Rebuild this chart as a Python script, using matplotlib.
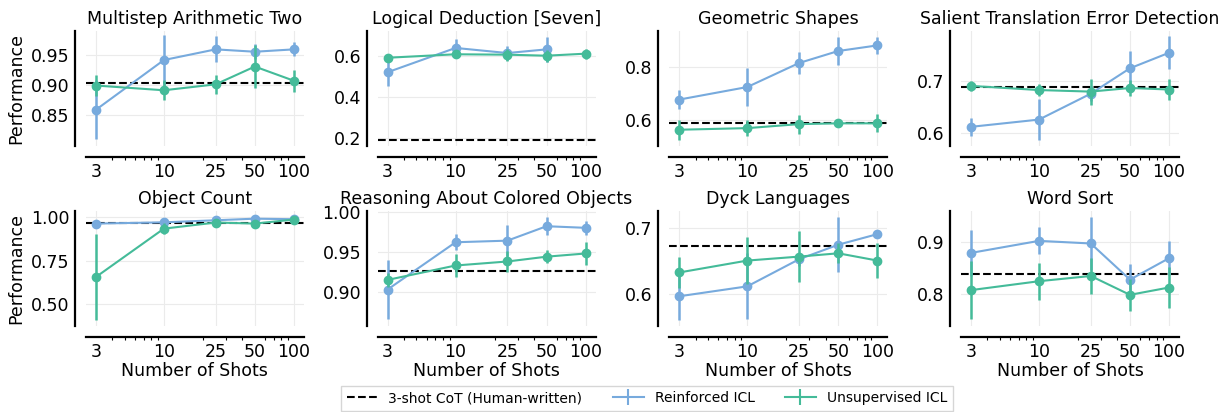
import numpy as np
import matplotlib
matplotlib.use("Agg")
import matplotlib.pyplot as plt
from matplotlib.lines import Line2D
from matplotlib.ticker import FixedLocator, NullFormatter, LogLocator

shots = [3, 10, 25, 50, 100]

titles = [
    "Multistep Arithmetic Two", "Logical Deduction [Seven]",
    "Geometric Shapes", "Salient Translation Error Detection",
    "Object Count", "Reasoning About Colored Objects",
    "Dyck Languages", "Word Sort",
]

# 3-shot CoT (Human-written) baseline per task
baseline = [0.903, 0.192, 0.590, 0.689, 0.966, 0.926, 0.672, 0.839]

reinforced = [
    [0.858, 0.942, 0.960, 0.956, 0.960],
    [0.522, 0.641, 0.616, 0.634, np.nan],
    [0.678, 0.725, 0.815, 0.860, 0.881],
    [0.612, 0.626, 0.676, 0.725, 0.755],
    [0.962, 0.969, 0.981, 0.990, 0.987],
    [0.903, 0.962, 0.964, 0.982, 0.980],
    [0.596, 0.611, 0.652, 0.674, 0.690],
    [0.879, 0.902, 0.897, 0.828, 0.869],
]
reinforced_err = [
    [0.050, 0.043, 0.022, 0.013, 0.012],
    [0.068, 0.044, 0.036, 0.062, np.nan],
    [0.036, 0.070, 0.042, 0.052, 0.032],
    [0.018, 0.039, 0.015, 0.034, 0.032],
    [0.008, 0.010, 0.008, 0.008, 0.008],
    [0.037, 0.010, 0.019, 0.011, 0.009],
    [0.036, 0.050, 0.010, 0.042, 0.006],
    [0.044, 0.026, 0.051, 0.030, 0.033],
]

unsupervised = [
    [0.899, 0.891, 0.901, 0.931, 0.907],
    [0.593, 0.610, 0.608, 0.603, 0.613],
    [0.565, 0.571, 0.586, 0.589, 0.589],
    [0.691, 0.683, 0.680, 0.687, 0.684],
    [0.656, 0.933, 0.968, 0.962, 0.985],
    [0.915, 0.933, 0.938, 0.944, 0.948],
    [0.632, 0.650, 0.656, 0.661, 0.650],
    [0.808, 0.825, 0.835, 0.799, 0.813],
]
unsupervised_err = [
    [0.017, 0.017, 0.016, 0.037, 0.019],
    [0.015, 0.015, 0.030, 0.030, 0.025],
    [0.037, 0.031, 0.036, 0.010, 0.034],
    [0.010, 0.011, 0.025, 0.016, 0.021],
    [0.245, 0.030, 0.010, 0.008, 0.008],
    [0.009, 0.014, 0.013, 0.008, 0.014],
    [0.024, 0.035, 0.038, 0.015, 0.026],
    [0.056, 0.035, 0.034, 0.030, 0.040],
]

ylims = [
    (0.797, 0.991), (0.161, 0.724), (0.504, 0.935), (0.575, 0.797),
    (0.376, 1.034), (0.8575, 1.001), (0.551, 0.725), (0.7395, 0.959),
]
yticks = [
    [0.85, 0.90, 0.95], [0.2, 0.4, 0.6], [0.6, 0.8], [0.6, 0.7],
    [0.50, 0.75, 1.00], [0.90, 0.95, 1.00], [0.6, 0.7], [0.8, 0.9],
]
yfmt = ["%.2f", "%.1f", "%.1f", "%.1f", "%.2f", "%.2f", "%.1f", "%.1f"]

BLUE = "#77AADD"
GREEN = "#44BB99"

plt.rcParams["font.family"] = "DejaVu Sans"
plt.rcParams["font.size"] = 12.5

fig, axes = plt.subplots(2, 4, figsize=(12.3, 4.12), dpi=100)
fig.subplots_adjust(left=0.0699, right=0.9585, top=0.9248, bottom=0.2087,
                    wspace=0.339, hspace=0.565)

for i, ax in enumerate(axes.flat):
    ax.axhline(baseline[i], color="black", linestyle="--", linewidth=1.5,
               zorder=3)
    ax.errorbar(shots, reinforced[i], yerr=reinforced_err[i], color=BLUE,
                marker="o", markersize=6, linewidth=1.5, elinewidth=1.8,
                zorder=4)
    ax.errorbar(shots, unsupervised[i], yerr=unsupervised_err[i], color=GREEN,
                marker="o", markersize=6, linewidth=1.5, elinewidth=1.8,
                zorder=5)

    ax.set_xscale("log")
    ax.set_xlim(2.52, 119)
    ax.xaxis.set_major_locator(FixedLocator(shots))
    ax.set_xticklabels([str(s) for s in shots])
    ax.xaxis.set_minor_locator(LogLocator(base=10, subs=np.arange(2, 10)))
    ax.xaxis.set_minor_formatter(NullFormatter())
    ax.tick_params(axis="x", which="major", length=0, pad=4)
    ax.tick_params(axis="x", which="minor", length=2, width=0.8)
    ax.tick_params(axis="y", length=0, pad=4)

    ax.set_ylim(*ylims[i])
    ax.set_yticks(yticks[i])
    ax.set_yticklabels([yfmt[i] % t for t in yticks[i]])

    ax.grid(True, which="major", color="#ebebeb", linewidth=0.8)
    ax.set_axisbelow(True)
    for s in ["top", "right"]:
        ax.spines[s].set_visible(False)
    for s in ["left", "bottom"]:
        ax.spines[s].set_position(("outward", 8))
        ax.spines[s].set_linewidth(1.6)
    ax.set_title(titles[i], fontsize=12.5, pad=5)

    if i % 4 == 0:
        ax.set_ylabel("Performance")
    if i >= 4:
        ax.set_xlabel("Number of Shots", labelpad=1)

handles = [
    Line2D([], [], color="black", linestyle="--", linewidth=1.5),
    Line2D([], [], color=BLUE, linewidth=1.5, marker="|", markersize=12,
           markeredgewidth=1.5),
    Line2D([], [], color=GREEN, linewidth=1.5, marker="|", markersize=12,
           markeredgewidth=1.5),
]
labels = ["3-shot CoT (Human-written)", "Reinforced ICL", "Unsupervised ICL"]
fig.legend(handles, labels, loc="lower center", ncol=3,
           bbox_to_anchor=(0.526, 0.0), borderaxespad=0.1, fontsize=10,
           frameon=True, fancybox=False, edgecolor="#cccccc",
           columnspacing=2.2, handlelength=2.2)

fig.savefig("out.png", dpi=100)
